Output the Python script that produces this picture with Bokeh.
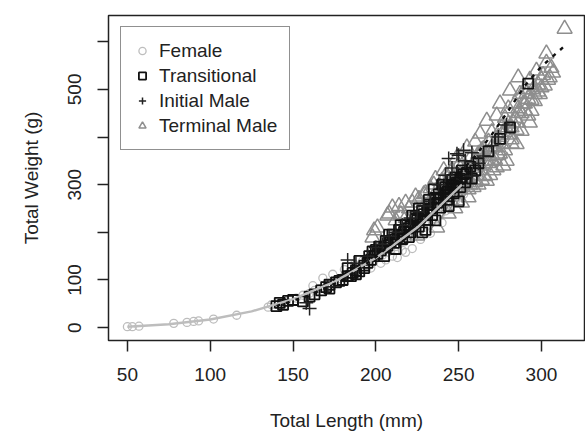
from bokeh.plotting import figure
from bokeh.models import Range1d, FixedTicker, Legend, LegendItem
from bokeh.embed import file_html
from bokeh.resources import INLINE

# ---------------- data ----------------
female_len = [50, 53, 57, 78, 86, 90, 93, 102, 116, 135, 137, 141, 146, 152, 156, 160, 162, 163, 166, 168,
              169, 172, 174, 175, 178, 180, 181, 183, 186, 187, 188, 191, 192, 194, 196, 199, 201, 204, 206,
              207, 209, 212, 213, 214, 217, 218, 219, 222, 224, 226, 229, 231, 234, 236, 239, 242, 245, 248,
              250, 253, 256, 258, 262, 185, 197, 203, 210, 216, 227, 233, 240]
female_wt = [2, 2, 3, 9, 11, 13, 14, 18, 26, 43, 48, 50, 55, 62, 68, 72, 88, 78, 82, 104,
             87, 93, 112, 97, 103, 105, 122, 112, 116, 133, 121, 126, 140, 131, 138, 141, 147, 152, 142,
             158, 163, 170, 147, 175, 180, 158, 187, 166, 195, 200, 210, 215, 222, 228, 238, 245, 255, 265,
             275, 280, 290, 300, 310, 108, 125, 135, 150, 162, 185, 198, 220]

trans_len = [140, 142, 144, 147, 150, 156, 160, 163, 167, 170, 172, 176, 180, 183, 186, 188, 190, 193, 195,
             197, 199, 201, 203, 205, 207, 209, 211, 213, 215, 217, 219, 221, 223, 225, 227, 229, 231, 233,
             235, 237, 239, 241, 243, 245, 247, 249, 251, 253, 205, 212, 220, 228, 236, 230, 244, 250, 258,
             262, 268, 275, 281, 292, 208, 215, 222, 226, 232, 240, 235, 246, 190, 183, 198,
             202, 206, 210, 214, 218, 224, 228, 232, 236, 238, 242, 244, 248, 252, 255, 257, 260, 196, 200,
             211, 216, 221, 226, 231, 234, 239, 243, 247, 251, 254, 172, 178, 185, 188, 193]
trans_wt = [45, 52, 48, 56, 58, 55, 65, 70, 78, 85, 82, 95, 100, 108, 115, 120, 118, 130, 136,
            142, 150, 155, 162, 168, 172, 180, 185, 190, 195, 201, 208, 212, 218, 225, 232, 238, 243, 250,
            258, 262, 270, 278, 285, 292, 298, 305, 312, 322, 150, 165, 190, 200, 225, 205, 255, 265, 313,
            345, 370, 396, 420, 512, 195, 215, 235, 250, 268, 300, 290, 310, 140, 125, 160,
            170, 182, 195, 205, 215, 228, 245, 258, 272, 280, 295, 300, 315, 330, 325, 338, 330, 150, 163,
            178, 186, 200, 212, 226, 236, 252, 268, 282, 295, 305, 90, 98, 108, 112, 125]

init_len = [158, 160, 171, 183, 188, 195, 200, 204, 208, 212, 216, 221, 225, 229, 233, 238, 242, 246, 250,
            254, 258, 258, 262, 265, 270, 274, 279, 244, 249, 253]
init_wt = [52, 40, 86, 142, 135, 150, 168, 175, 192, 200, 215, 230, 243, 255, 265, 300, 320, 335, 362,
           350, 367, 318, 345, 360, 382, 400, 425, 355, 365, 372]

term_len = [198, 199, 201, 207, 208, 210, 212, 215, 218, 220, 222, 225, 226, 228, 230, 232, 234, 235, 237,
            237, 238, 239, 240, 241, 242, 243, 244, 244, 245, 246, 247, 248, 248, 249, 249, 250, 251, 252,
            252, 253, 254, 255, 255, 256, 257, 258, 259, 260, 260, 261, 262, 263, 263, 264, 265, 266, 267,
            267, 268, 269, 270, 271, 272, 273, 273, 274, 275, 275, 276, 277, 278, 279, 280, 281, 281, 282,
            283, 284, 285, 286, 286, 287, 288, 289, 290, 291, 292, 293, 294, 295, 296, 297, 298, 299, 300,
            301, 302, 303, 303, 304, 305, 306, 307, 314,
            214, 218, 224, 229, 233, 236, 241, 250, 254, 257, 259, 262, 264, 266, 268, 270, 272, 274, 276,
            278, 280, 282, 284, 286, 288, 290, 292, 294, 296, 298, 300, 262, 266, 270, 274, 278, 282, 286,
            290, 256, 260, 246, 251, 269, 277, 285, 293]
term_wt = [189, 204, 210, 235, 239, 252, 225, 238, 230, 250, 262, 193, 270, 248, 282, 260, 256, 300, 288,
           210, 281, 270, 308, 295, 318, 280, 300, 239, 325, 330, 310, 292, 250, 357, 267, 340, 320, 300,
           262, 345, 330, 378, 310, 273, 355, 335, 295, 390, 350, 320, 365, 407, 340, 310, 375, 350, 434,
           308, 390, 360, 410, 330, 380, 336, 445, 400, 470, 365, 420, 385, 440, 350, 460, 497, 405, 386,
           430, 470, 415, 525, 450, 490, 413, 470, 500, 491, 445, 520, 455, 500, 475, 539, 510, 490, 504,
           530, 508, 556, 575, 520, 525, 545, 535, 627,
           255, 262, 275, 280, 292, 312, 330, 300, 322, 300, 345, 330, 372, 360, 345, 378, 352, 378, 405,
           410, 428, 420, 440, 460, 450, 470, 480, 478, 490, 495, 520, 300, 318, 350, 362, 372, 395, 430,
           455, 290, 305, 280, 290, 320, 340, 385, 430]

# fitted curves
fem_fit_len = [50, 75, 100, 125, 150, 175, 200, 225, 252]
fem_fit_wt = [2, 7, 17, 34, 60, 96, 146, 210, 300]
male_fit_len = [140, 160, 180, 200, 220, 240, 260, 270, 280, 290, 300, 313]
male_fit_wt = [45, 68, 100, 148, 208, 285, 360, 405, 455, 508, 548, 588]

x_ticks = [50, 100, 150, 200, 250, 300]
y_ticks = [0, 100, 200, 300, 400, 500, 600]
y_tick_labels = {0: "0", 100: "100", 200: "", 300: "300", 400: "", 500: "500", 600: ""}

FONT = "Liberation Sans"
TXT = "#222222"

p = figure(width=585, height=438, output_backend="svg", toolbar_location=None,
           x_range=Range1d(38.6, 326), y_range=Range1d(-27, 655),
           min_border_left=108, min_border_right=1, min_border_top=15, min_border_bottom=98)
p.grid.visible = False
p.outline_line_color = "#222222"
p.outline_line_width = 1.5
p.background_fill_color = "white"
p.border_fill_color = "white"

r_f = p.scatter(female_len, female_wt, marker="circle", size=8, fill_color=None,
                line_color="#bdbdbd", line_width=1.3)
r_tm = p.scatter(term_len, term_wt, marker="triangle", size=15, fill_color=None,
                 line_color="#8e8e8e", line_width=1.5)
r_t = p.scatter(trans_len, trans_wt, marker="square", size=10, fill_color=None,
                line_color="#111111", line_width=1.8)
r_i = p.scatter(init_len, init_wt, marker="cross", size=14, fill_color=None,
                line_color="#222222", line_width=1.5)

p.line(fem_fit_len, fem_fit_wt, line_color="#bdbdbd", line_width=2.4)
p.line(male_fit_len, male_fit_wt, line_color="#111111", line_width=2.4, line_dash="4 6")

for ax in (p.xaxis[0], p.yaxis[0]):
    ax.axis_line_color = None
    ax.major_tick_in = 0
    ax.major_tick_out = 11
    ax.major_tick_line_color = "#222222"
    ax.major_tick_line_width = 1.5
    ax.minor_tick_line_color = None
    ax.major_label_text_font = FONT
    ax.major_label_text_font_size = "19px"
    ax.major_label_text_color = TXT
    ax.axis_label_text_font = FONT
    ax.axis_label_text_font_size = "19px"
    ax.axis_label_text_font_style = "normal"
    ax.axis_label_text_color = TXT

p.xaxis[0].ticker = FixedTicker(ticks=x_ticks)
p.xaxis[0].major_label_standoff = 16
p.xaxis[0].axis_label = "Total Length (mm)"
p.xaxis[0].axis_label_standoff = 26

p.yaxis[0].ticker = FixedTicker(ticks=y_ticks)
p.yaxis[0].major_label_overrides = y_tick_labels
p.yaxis[0].major_label_orientation = "vertical"
p.yaxis[0].major_label_standoff = 16
p.yaxis[0].axis_label = "Total Weight (g)"
p.yaxis[0].axis_label_standoff = 24

legend = Legend(items=[
    LegendItem(label="Female", renderers=[r_f]),
    LegendItem(label="Transitional", renderers=[r_t]),
    LegendItem(label="Initial Male", renderers=[r_i]),
    LegendItem(label="Terminal Male", renderers=[r_tm]),
], location=(12, 190))
legend.label_text_font = FONT
legend.label_text_font_size = "19px"
legend.label_text_color = TXT
legend.border_line_color = "#222222"
legend.border_line_width = 1.5
legend.background_fill_color = "white"
legend.background_fill_alpha = 1
legend.padding = 12
legend.spacing = 2
legend.glyph_height = 23
legend.label_height = 23
legend.glyph_width = 18
legend.label_standoff = 8
legend.margin = 0
p.add_layout(legend, "center")

open("out.html", "w").write(file_html(p, INLINE))
